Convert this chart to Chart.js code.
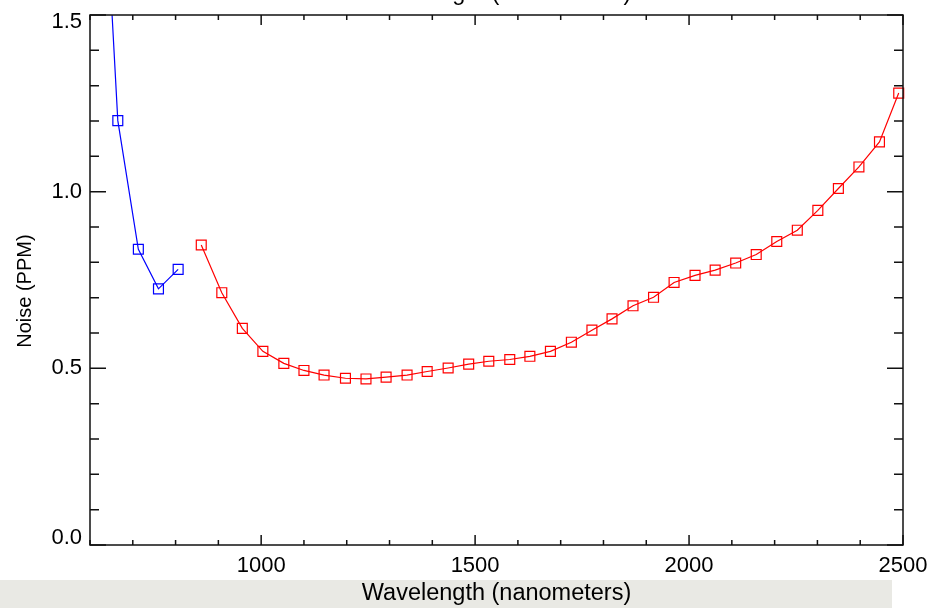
<!DOCTYPE html>
<html>
<head>
<meta charset="utf-8">
<title>Noise vs wavelength</title>
<script src="https://cdn.jsdelivr.net/npm/chart.js@4/dist/chart.umd.min.js"></script>
<style>
  html, body { margin: 0; padding: 0; background: #fff; }
  #wrap { width: 934px; height: 608px; position: relative; }
</style>
</head>
<body>
<div id="wrap"><canvas id="noiseChart"></canvas></div>
<script>
// short-wave channel (blue)
var blueWave  = [618, 665, 713, 760, 806];
var blueNoise = [2.25, 1.201, 0.837, 0.725, 0.780];

// long-wave channel (red)
var redWave = [860, 908, 956, 1004, 1053, 1100, 1147, 1197, 1245, 1292,
               1341, 1388, 1437, 1485, 1532, 1581, 1628, 1676, 1725, 1773,
               1820, 1869, 1917, 1965, 2014, 2061, 2109, 2157, 2205, 2253,
               2301, 2349, 2397, 2445, 2490];
var redNoise = [0.849, 0.714, 0.613, 0.548, 0.514, 0.494, 0.481, 0.472, 0.470, 0.475,
                0.481, 0.491, 0.501, 0.512, 0.520, 0.525, 0.534, 0.548, 0.574, 0.608,
                0.640, 0.677, 0.701, 0.743, 0.763, 0.778, 0.798, 0.822, 0.859, 0.891,
                0.947, 1.009, 1.070, 1.141, 1.279];

var xTicks = [1000, 1500, 2000, 2500];
var yTicks = [0, 0.5, 1.0, 1.5];

var xTitle = 'Wavelength (nanometers)';
var yTitle = 'Noise (PPM)';

var FONT = '"Liberation Sans", Arial, Helvetica, sans-serif';

function toPoints(xs, ys) {
  return xs.map(function(x, i) { return { x: x, y: ys[i] }; });
}

// keep the frame where afterFit puts it, labels may overhang
function fixBox(scale) {
  scale.paddingTop = 0;
  scale.paddingBottom = 0;
  scale.paddingLeft = 0;
  scale.paddingRight = 0;
}

// grey strip under the x title, boxed frame with inward ticks, clipped title
var framePlugin = {
  id: 'frame',
  beforeDraw: function(chart) {
    var ctx = chart.ctx;
    ctx.save();
    ctx.fillStyle = '#e9e9e4';
    ctx.fillRect(0, 580, 892, 28);
    ctx.restore();
  },
  afterDraw: function(chart) {
    var ctx = chart.ctx;
    var a = chart.chartArea;
    var x = chart.scales.x;
    var y = chart.scales.y;
    ctx.save();
    ctx.strokeStyle = '#111';
    ctx.lineWidth = 1.5;
    ctx.strokeRect(a.left, a.top, a.right - a.left, a.bottom - a.top);

    ctx.beginPath();
    for (var v = 600; v <= 2500; v += 100) {
      var px = x.getPixelForValue(v);
      var len = v % 500 === 0 ? 10 : 5;
      ctx.moveTo(px, a.bottom); ctx.lineTo(px, a.bottom - len);
      ctx.moveTo(px, a.top);    ctx.lineTo(px, a.top + len);
    }
    for (var i = 0; i <= 15; i++) {
      var py = y.getPixelForValue(i / 10);
      var l = i % 5 === 0 ? 16 : 9;
      ctx.moveTo(a.left, py);  ctx.lineTo(a.left + l, py);
      ctx.moveTo(a.right, py); ctx.lineTo(a.right - l, py);
    }
    ctx.stroke();

    // plot title, mostly above the top edge of the canvas
    ctx.fillStyle = '#000';
    ctx.font = '23.5px ' + FONT;
    ctx.textAlign = 'center';
    ctx.textBaseline = 'alphabetic';
    ctx.fillText(xTitle, (a.left + a.right) / 2, 0);
    ctx.restore();
  }
};

document.addEventListener('DOMContentLoaded', function() {
  var ctx = document.getElementById('noiseChart').getContext('2d');

  var data = {
    datasets: [{
      label: 'blue',
      data: toPoints(blueWave, blueNoise),
      borderColor: '#0000ff',
      borderWidth: 1.2,
      pointStyle: 'rect',
      pointRadius: 7,
      pointBorderWidth: 1.2,
      pointBorderColor: '#0000ff',
      pointBackgroundColor: 'rgba(0,0,0,0)',
      tension: 0
    }, {
      label: 'red',
      data: toPoints(redWave, redNoise),
      borderColor: '#ff0000',
      borderWidth: 1.2,
      pointStyle: 'rect',
      pointRadius: 7,
      pointBorderWidth: 1.2,
      pointBorderColor: '#ff0000',
      pointBackgroundColor: 'rgba(0,0,0,0)',
      tension: 0,
      clip: { left: 0, top: 0, right: 8, bottom: 0 }
    }]
  };

  var options = {
    responsive: true,
    maintainAspectRatio: false,
    animation: false,
    layout: { padding: { top: 15, right: 31, bottom: 0, left: 0 } },
    plugins: {
      legend: { display: false },
      tooltip: { enabled: false }
    },
    scales: {
      x: {
        type: 'linear',
        min: 600,
        max: 2500,
        grid: { display: false, drawTicks: false },
        border: { display: false },
        afterBuildTicks: function(scale) {
          scale.ticks = xTicks.map(function(v) { return { value: v }; });
        },
        afterFit: function(scale) { scale.height = 63; fixBox(scale); },
        ticks: {
          autoSkip: false,
          maxRotation: 0,
          padding: 8,
          color: '#000',
          font: { family: FONT, size: 22 },
          callback: function(v) { return String(v); }
        },
        title: {
          display: true,
          text: xTitle,
          color: '#000',
          font: { family: FONT, size: 23.5 },
          padding: { top: 0, bottom: 0 }
        }
      },
      y: {
        min: 0,
        max: 1.5,
        grid: { display: false, drawTicks: false },
        border: { display: false },
        afterBuildTicks: function(scale) {
          scale.ticks = yTicks.map(function(v) { return { value: v }; });
        },
        afterFit: function(scale) { scale.width = 90; fixBox(scale); },
        ticks: {
          padding: 8,
          color: '#000',
          font: { family: FONT, size: 22, lineHeight: 0.6 },
          // end labels sit inside the frame
          callback: function(v) {
            if (v === 1.5) return ['', '1.5'];
            if (v === 0) return ['0.0', ''];
            return v.toFixed(1);
          }
        },
        title: {
          display: true,
          // trailing blanks push the rotated label a little lower
          text: yTitle + '    ',
          color: '#000',
          font: { family: FONT, size: 20 },
          padding: { top: 13, bottom: 0 }
        }
      }
    }
  };

  new Chart(ctx, {
    type: 'line',
    data: data,
    options: options,
    plugins: [framePlugin]
  });
});
</script>
</body>
</html>
